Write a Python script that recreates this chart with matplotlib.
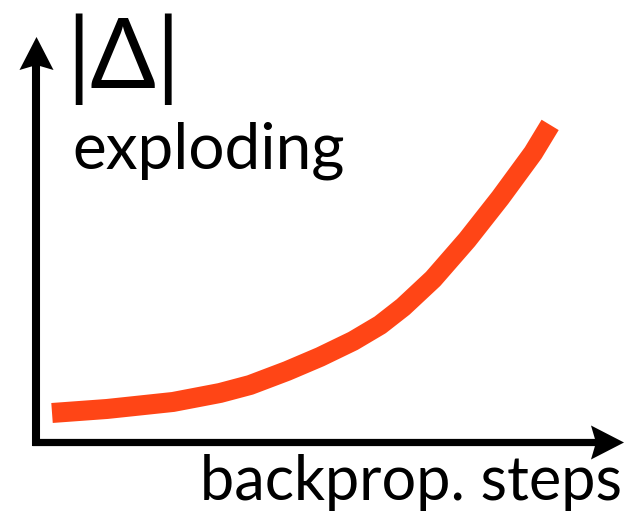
import matplotlib
matplotlib.use("Agg")
import matplotlib.pyplot as plt
from matplotlib.path import Path

# curve (x: backprop steps, y: |delta|)
steps = [2.73, 12.1, 23.34, 31.35, 36.46, 42.76, 48.38, 54.0, 58.6, 62.52,
         67.63, 73.42, 79.05, 84.67, 87.56]
magnitude = [7.16, 8.15, 9.88, 12.1, 14.07, 17.53, 21.0, 24.94, 28.89, 33.33,
             40.25, 49.88, 60.25, 71.36, 78.27]

W, H = 632, 522

# stealth-like arrow heads (tip, wing, notch, wing)
head_right = Path([(16.5, 0), (-16.5, 17), (-11.5, 0), (-16.5, -17), (16.5, 0)],
                  [Path.MOVETO, Path.LINETO, Path.LINETO, Path.LINETO, Path.CLOSEPOLY])
head_up = Path([(0, 16.5), (17, -16.5), (0, -11.5), (-17, -16.5), (0, 16.5)],
               [Path.MOVETO, Path.LINETO, Path.LINETO, Path.LINETO, Path.CLOSEPOLY])


def main():
    fig = plt.figure(figsize=(W / 100, H / 100), dpi=100)
    ax = fig.add_axes([0, 0, 1, 1])
    ax.set_xlim(-6.13, 101.5)
    ax.set_ylim(-19.75, 109.1)
    ax.axis("off")

    # the curve
    ax.plot(steps, magnitude, color="#FF4516", lw=14.4,
            solid_capstyle="butt", solid_joinstyle="round")

    # axes with arrow heads
    ax.plot([0, 0], [-1, 96], color="black", lw=5.8, solid_capstyle="butt")
    ax.plot([-0.7, 97.5], [0, 0], color="black", lw=5.2, solid_capstyle="butt")
    ax.plot(0, 95.93, marker=head_up, ms=24.5, mfc="black", mew=0)
    ax.plot(97.19, 0, marker=head_right, ms=24.5, mfc="black", mew=0)

    # labels
    fam = ["Lato", "DejaVu Sans"]
    fig.text(66 / W, 1 - 88 / H, "|Δ|", family=fam, fontsize=70,
             ha="left", va="baseline")
    fig.text(72 / W, 1 - 168 / H, "exploding", family=fam, fontsize=46,
             ha="left", va="baseline")
    fig.text(200 / W, 1 - 500 / H, "backprop. steps", family=fam, fontsize=44,
             ha="left", va="baseline")

    fig.savefig("out.png", dpi=100)


if __name__ == "__main__":
    main()
